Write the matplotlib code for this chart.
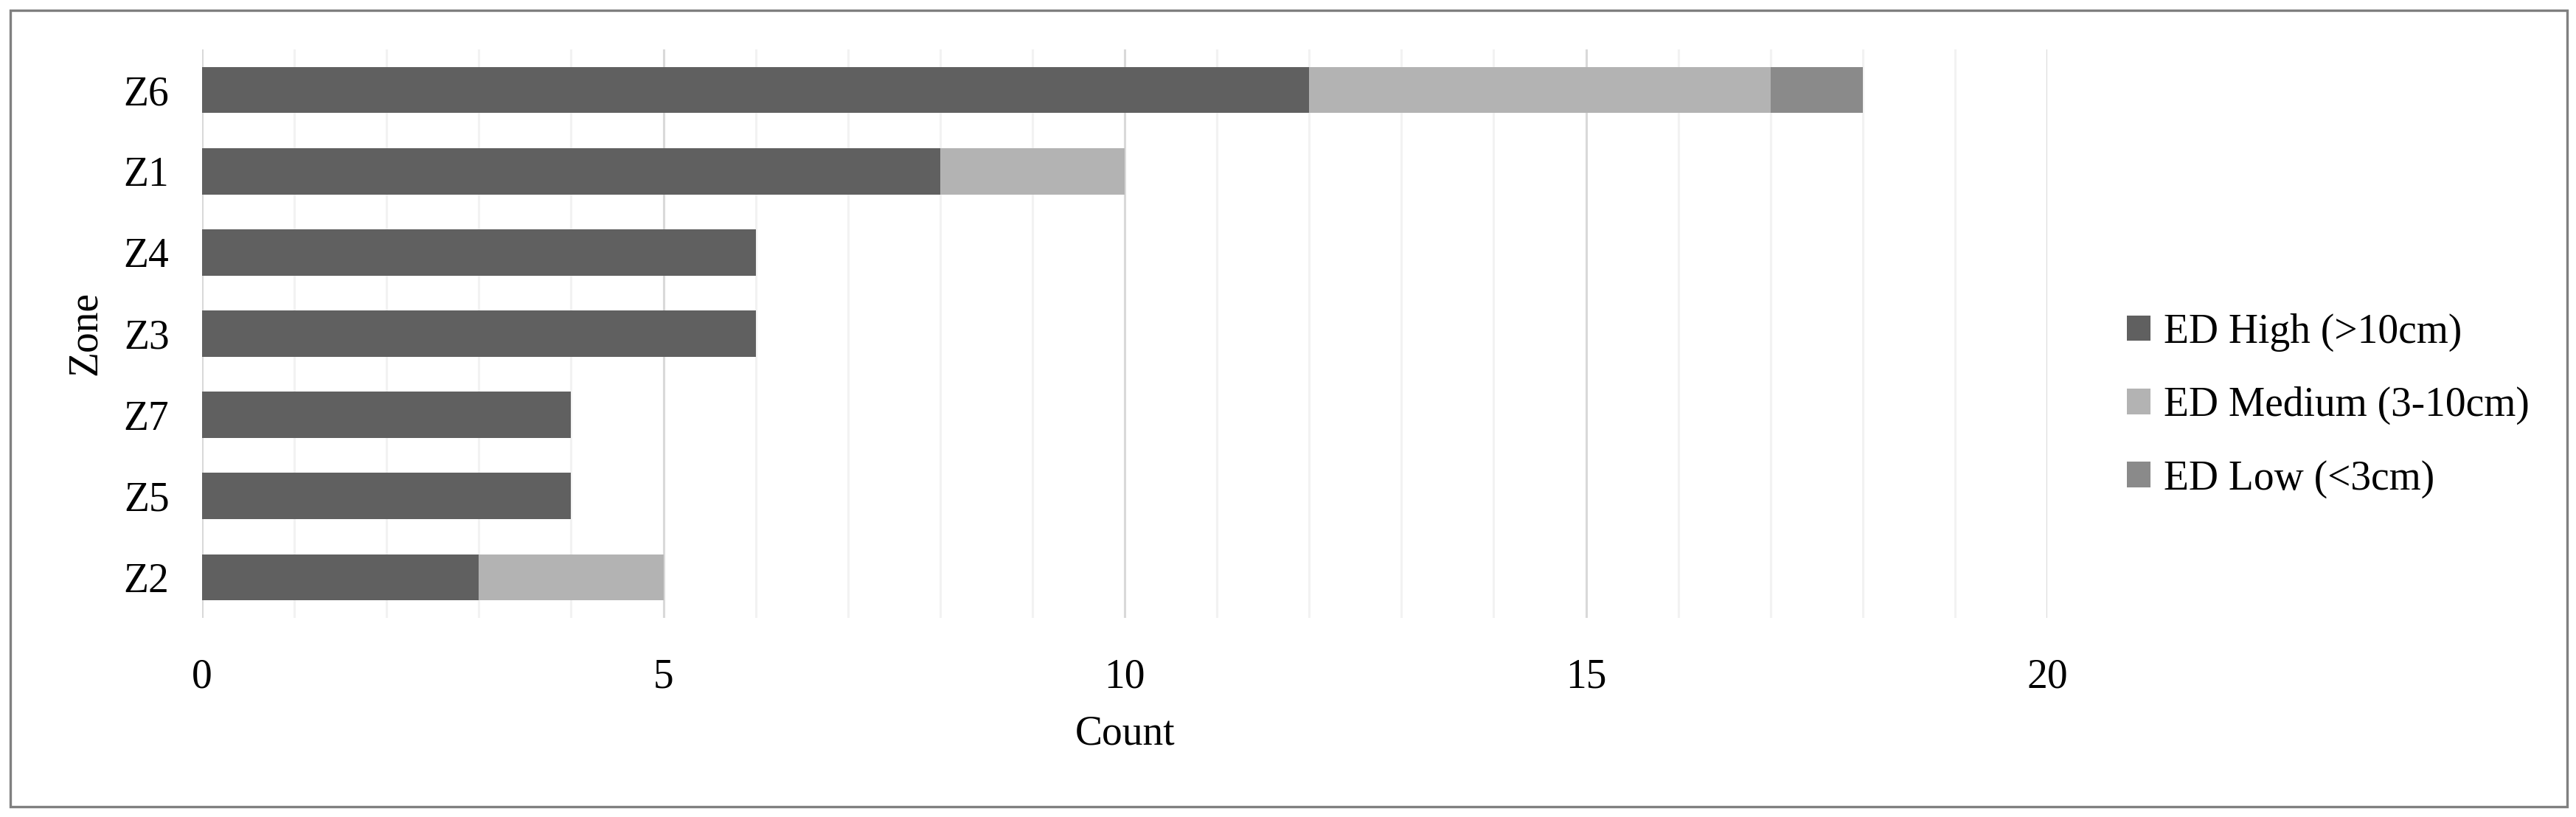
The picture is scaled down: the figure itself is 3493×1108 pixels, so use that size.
import numpy as np
import matplotlib.pyplot as plt
from matplotlib.patches import Rectangle

# data, top to bottom as in the chart
zones = ['Z6', 'Z1', 'Z4', 'Z3', 'Z7', 'Z5', 'Z2']
ed_high = [12, 8, 6, 6, 4, 4, 3]
ed_medium = [5, 2, 0, 0, 0, 0, 2]
ed_low = [1, 0, 0, 0, 0, 0, 0]
series_names = ['ED High (>10cm)', 'ED Medium (3-10cm)', 'ED Low (<3cm)']
series_colors = ['#606060', '#b3b3b3', '#8a8a8a']

plt.rcParams['font.family'] = ['Liberation Serif', 'DejaVu Serif']

W, H = 3493, 1108
fig = plt.figure(figsize=(W / 100, H / 100), dpi=100)
ax = fig.add_axes([274 / W, 1 - 838 / H, (2776 - 274) / W, (838 - 67) / H])

y = np.arange(len(zones))[::-1]
left = np.zeros(len(zones))
for vals, name, col in zip([ed_high, ed_medium, ed_low], series_names, series_colors):
    vals = np.array(vals, dtype=float)
    ax.barh(y, vals, left=left, height=0.57, color=col, label=name, zorder=3)
    left += vals

ax.set_xlim(0, 20)
ax.set_ylim(-0.5, len(zones) - 0.5)
ax.set_yticks(y)
ax.set_yticklabels(zones)
ax.set_xticks([0, 5, 10, 15, 20])
ax.set_xticks(np.arange(0, 21, 1), minor=True)
ax.grid(True, which='minor', axis='x', color='#f2f2f2', linewidth=2.2, zorder=0)
ax.grid(True, which='major', axis='x', color='#d9d9d9', linewidth=2.2, zorder=1)
ax.set_axisbelow(True)
for s in ax.spines.values():
    s.set_visible(False)
ax.tick_params(axis='both', which='both', length=0, labelsize=40)
ax.tick_params(axis='x', pad=39)
ax.tick_params(axis='y', pad=32)

fig.text(1526 / W, 1 - 996 / H, 'Count', ha='center', va='center', fontsize=40)
fig.text(116 / W, 1 - 452 / H, 'Zone', ha='center', va='center', fontsize=40, rotation=90)

fig.legend(loc='center left', bbox_to_anchor=(2884 / W, 1 - 550 / H), frameon=False,
           fontsize=40, handlelength=0.58, handleheight=0.58, handletextpad=0.32,
           labelspacing=0.85, borderpad=0, borderaxespad=0)

# outer border
fig.patches.append(Rectangle((14 / W, 14 / H), (3481 - 14) / W, (1094 - 14) / H,
                             transform=fig.transFigure, fill=False,
                             edgecolor='#808080', linewidth=2.4))

fig.savefig('out.png', dpi=100)
